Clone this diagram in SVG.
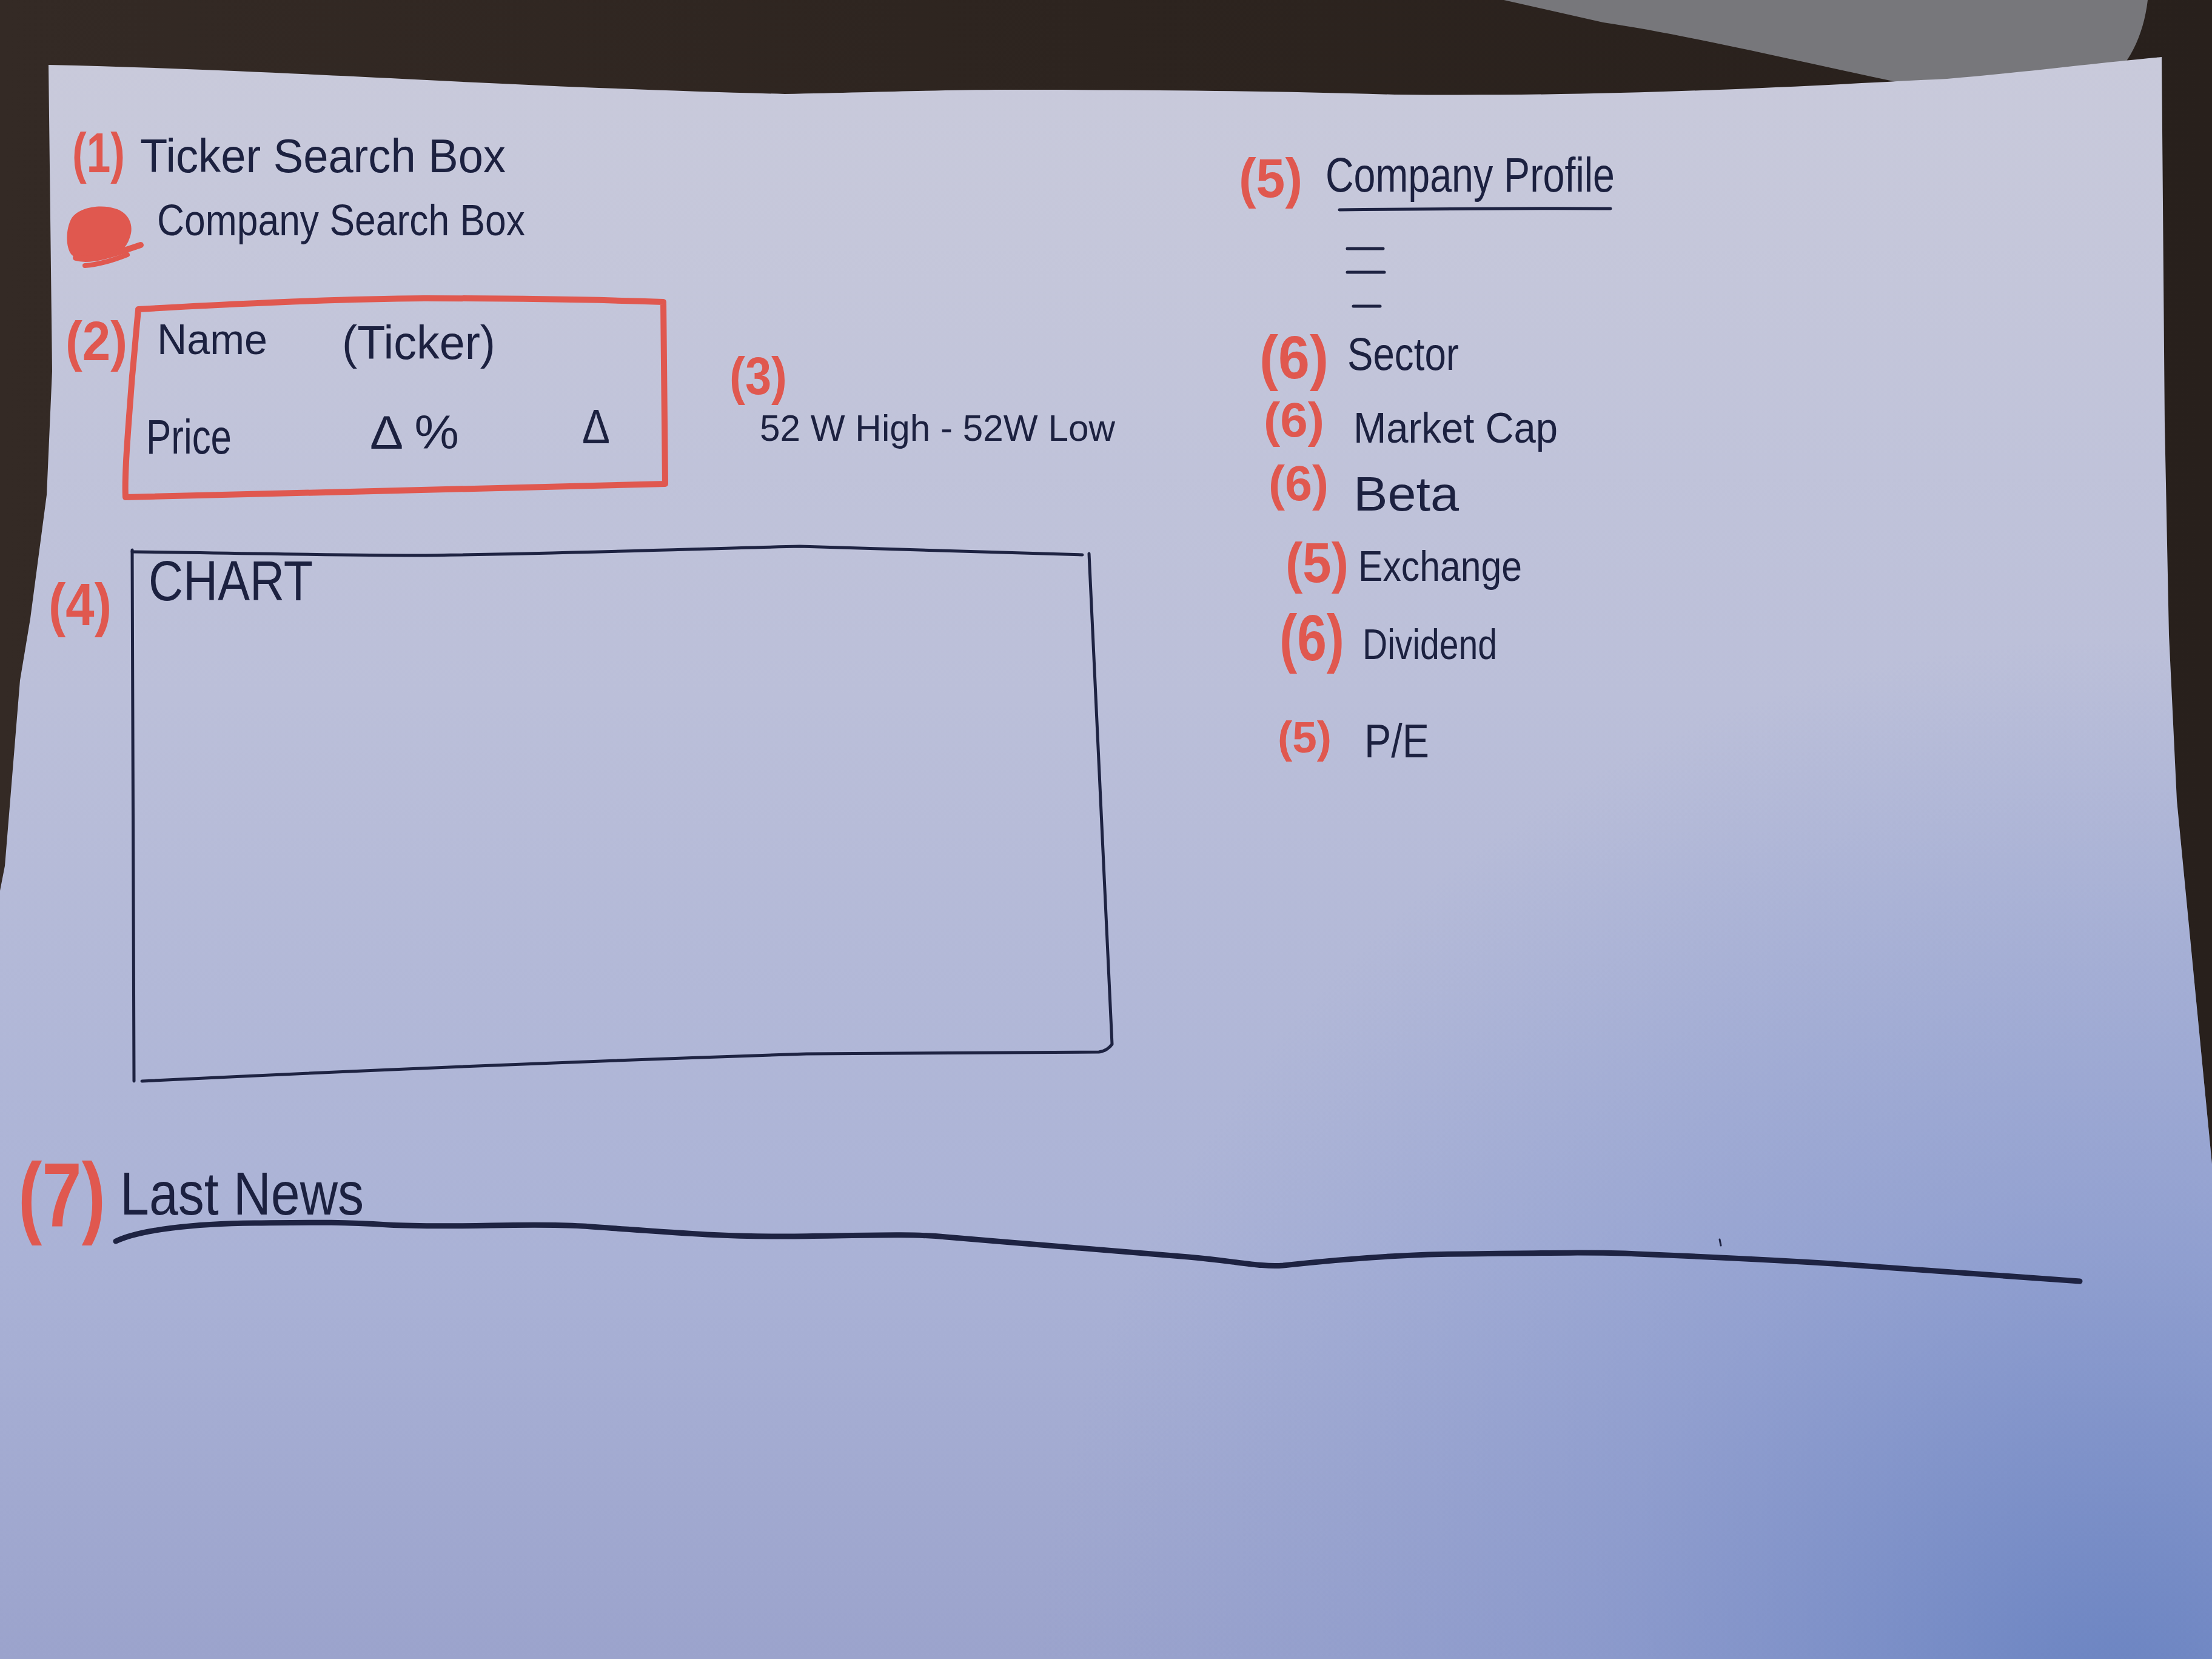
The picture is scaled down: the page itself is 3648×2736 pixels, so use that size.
<svg xmlns="http://www.w3.org/2000/svg" width="3648" height="2736" viewBox="0 0 3648 2736">
  <defs>
    <linearGradient id="paperShade" x1="0" y1="0" x2="0" y2="1">
      <stop offset="0" stop-color="#c9cadb"/>
      <stop offset="0.4" stop-color="#bbbfd9"/>
      <stop offset="0.75" stop-color="#aab2d6"/>
      <stop offset="1" stop-color="#9ba3cc"/>
    </linearGradient>
    <radialGradient id="cornerBlue" cx="3500" cy="2850" r="1800" gradientUnits="userSpaceOnUse">
      <stop offset="0" stop-color="#6580c0" stop-opacity="0.95"/>
      <stop offset="0.5" stop-color="#7a8fcb" stop-opacity="0.45"/>
      <stop offset="1" stop-color="#8195cf" stop-opacity="0"/>
    </radialGradient>
    <linearGradient id="woodShade" x1="0" y1="0" x2="1" y2="0">
      <stop offset="0" stop-color="#342a25"/>
      <stop offset="0.5" stop-color="#2d241f"/>
      <stop offset="1" stop-color="#28201c"/>
    </linearGradient>
    <style>
      .ink { font-family: "Liberation Sans", "DejaVu Sans", sans-serif; fill: #1c2140; }
      .num { font-family: "Liberation Sans", "DejaVu Sans", sans-serif; font-weight: bold; fill: #e0584f; }
      .pen { fill: none; stroke: #1e2342; stroke-linecap: round; stroke-linejoin: round; }
      .marker { fill: none; stroke: #e0584f; stroke-linecap: round; stroke-linejoin: round; }
    </style>
  </defs>

  <!-- desk -->
  <rect x="0" y="0" width="3648" height="2736" fill="url(#woodShade)"/>

  <!-- grey cloth in the top right corner -->
  <path d="M2480,0 L3542,0 C3535,60 3510,110 3470,140 L3200,150 C3000,110 2800,60 2644,37 Z" fill="#77777b"/>

  <!-- sheet of paper -->
  <path id="paper" d="M80,107 C300,112 500,122 663,130 C900,142 1100,150 1294,155 C1450,152 1560,148 1658,148 C1900,148 2100,150 2300,156 C2700,160 3000,140 3211,130 C3350,118 3444,105 3565,94 L3570,698 L3577,1047 L3590,1320 L3648,1920 L3648,2736 L0,2736 L0,1469 L8,1428 L33,1122 L50,1020 L77,816 L86,612 Z" fill="url(#paperShade)"/>
  <path d="M80,107 C300,112 500,122 663,130 C900,142 1100,150 1294,155 C1450,152 1560,148 1658,148 C1900,148 2100,150 2300,156 C2700,160 3000,140 3211,130 C3350,118 3444,105 3565,94 L3570,698 L3577,1047 L3590,1320 L3648,1920 L3648,2736 L0,2736 L0,1469 L8,1428 L33,1122 L50,1020 L77,816 L86,612 Z" fill="url(#cornerBlue)"/>

  <!-- (1) ticker search -->
  <g id="ticker-search">
    <text class="num" x="119" y="284" font-size="92" textLength="87" lengthAdjust="spacingAndGlyphs">(1)</text>
    <text class="ink" x="231" y="284" font-size="78" textLength="603" lengthAdjust="spacingAndGlyphs">Ticker Search Box</text>
  </g>

  <!-- company search, its number scribbled out -->
  <g id="company-search">
    <path d="M118,360 C130,342 165,336 190,344 C212,350 222,372 214,392 C208,410 196,420 178,424 C158,430 130,432 118,420 C108,408 108,378 118,360 Z" fill="#e0584f"/>
    <path class="marker" stroke-width="10" d="M125,425 C150,432 185,420 232,404"/>
    <path class="marker" stroke-width="8" d="M140,438 C165,436 190,428 210,420"/>
    <text class="ink" x="259" y="388" font-size="72" textLength="607" lengthAdjust="spacingAndGlyphs">Company Search Box</text>
  </g>

  <!-- (2) quote box -->
  <g id="quote-box">
    <text class="num" x="108" y="594" font-size="90" textLength="102" lengthAdjust="spacingAndGlyphs">(2)</text>
    <path class="marker" stroke-width="10" d="M228,510 C400,500 560,493 700,492 C850,492 980,494 1094,498 L1097,798 C800,806 500,812 207,820 C205,780 212,700 218,620 C222,580 225,540 228,512"/>
    <text class="ink" x="259" y="584" font-size="70" textLength="182" lengthAdjust="spacingAndGlyphs">Name</text>
    <text class="ink" x="564" y="592" font-size="78" textLength="253" lengthAdjust="spacingAndGlyphs">(Ticker)</text>
    <text class="ink" x="241" y="748" font-size="80" textLength="141" lengthAdjust="spacingAndGlyphs">Price</text>
    <text class="ink" x="610" y="740" font-size="78" textLength="147" lengthAdjust="spacingAndGlyphs">Δ %</text>
    <text class="ink" x="960" y="731" font-size="80" textLength="46" lengthAdjust="spacingAndGlyphs">Δ</text>
  </g>

  <!-- (3) 52 week range -->
  <g id="range-52w">
    <text class="num" x="1203" y="650" font-size="88" textLength="95" lengthAdjust="spacingAndGlyphs">(3)</text>
    <text class="ink" x="1253" y="727" font-size="62" textLength="586" lengthAdjust="spacingAndGlyphs">52 W High - 52W Low</text>
  </g>

  <!-- (4) chart area -->
  <g id="chart">
    <text class="num" x="80" y="1031" font-size="98" textLength="104" lengthAdjust="spacingAndGlyphs">(4)</text>
    <path class="pen" stroke-width="5" d="M218,910 C400,912 550,916 684,916 C900,914 1150,905 1319,901 C1500,905 1650,912 1785,915"/>
    <path class="pen" stroke-width="5" d="M1796,913 C1805,1100 1820,1400 1834,1722 C1830,1728 1822,1734 1812,1735 C1500,1738 1330,1738 1330,1738 C900,1752 500,1770 234,1783"/>
    <path class="pen" stroke-width="5" d="M218,907 C219,1200 220,1500 221,1783"/>
    <text class="ink" x="245" y="990" font-size="92" textLength="271" lengthAdjust="spacingAndGlyphs">CHART</text>
  </g>

  <!-- (5)/(6) company profile list -->
  <g id="company-profile">
    <text class="num" x="2043" y="325" font-size="90" textLength="105" lengthAdjust="spacingAndGlyphs">(5)</text>
    <text class="ink" x="2186" y="316" font-size="80" textLength="477" lengthAdjust="spacingAndGlyphs">Company Profile</text>
    <path class="pen" stroke-width="5" d="M2209,346 C2400,344 2550,343 2656,344"/>
    <path class="pen" stroke-width="5" d="M2222,410 L2281,410 M2222,449 L2283,449 M2232,505 L2276,505"/>

    <text class="num" x="2077" y="624" font-size="100" textLength="114" lengthAdjust="spacingAndGlyphs">(6)</text>
    <text class="ink" x="2222" y="610" font-size="76" textLength="184" lengthAdjust="spacingAndGlyphs">Sector</text>

    <text class="num" x="2084" y="720" font-size="80" textLength="100" lengthAdjust="spacingAndGlyphs">(6)</text>
    <text class="ink" x="2232" y="730" font-size="70" textLength="337" lengthAdjust="spacingAndGlyphs">Market Cap</text>

    <text class="num" x="2092" y="825" font-size="82" textLength="99" lengthAdjust="spacingAndGlyphs">(6)</text>
    <text class="ink" x="2232" y="842" font-size="80" textLength="174" lengthAdjust="spacingAndGlyphs">Beta</text>

    <text class="num" x="2120" y="960" font-size="92" textLength="104" lengthAdjust="spacingAndGlyphs">(5)</text>
    <text class="ink" x="2240" y="958" font-size="70" textLength="270" lengthAdjust="spacingAndGlyphs">Exchange</text>

    <text class="num" x="2110" y="1089" font-size="108" textLength="107" lengthAdjust="spacingAndGlyphs">(6)</text>
    <text class="ink" x="2247" y="1087" font-size="70" textLength="222" lengthAdjust="spacingAndGlyphs">Dividend</text>

    <text class="num" x="2107" y="1241" font-size="72" textLength="89" lengthAdjust="spacingAndGlyphs">(5)</text>
    <text class="ink" x="2250" y="1249" font-size="78" textLength="107" lengthAdjust="spacingAndGlyphs">P/E</text>
  </g>

  <!-- (7) latest news with its divider -->
  <g id="latest-news">
    <text class="num" x="30" y="2023" font-size="150" textLength="144" lengthAdjust="spacingAndGlyphs">(7)</text>
    <text class="ink" x="198" y="2003" font-size="100" textLength="402" lengthAdjust="spacingAndGlyphs">Last News</text>
    <path class="pen" stroke-width="9" d="M191,2047 C230,2028 320,2018 420,2017 C520,2016 560,2015 640,2020 C760,2026 860,2016 960,2022 C1080,2030 1180,2040 1302,2039 C1420,2038 1500,2034 1560,2040 C1700,2052 1860,2064 1960,2073 C2040,2080 2080,2090 2116,2087 C2180,2080 2300,2068 2419,2068 C2560,2066 2640,2065 2700,2068 C2850,2074 2960,2080 3023,2084 C3200,2096 3330,2105 3430,2113"/>
    <path class="pen" stroke-width="3" d="M2836,2044 L2838,2054"/>
  </g>
</svg>
